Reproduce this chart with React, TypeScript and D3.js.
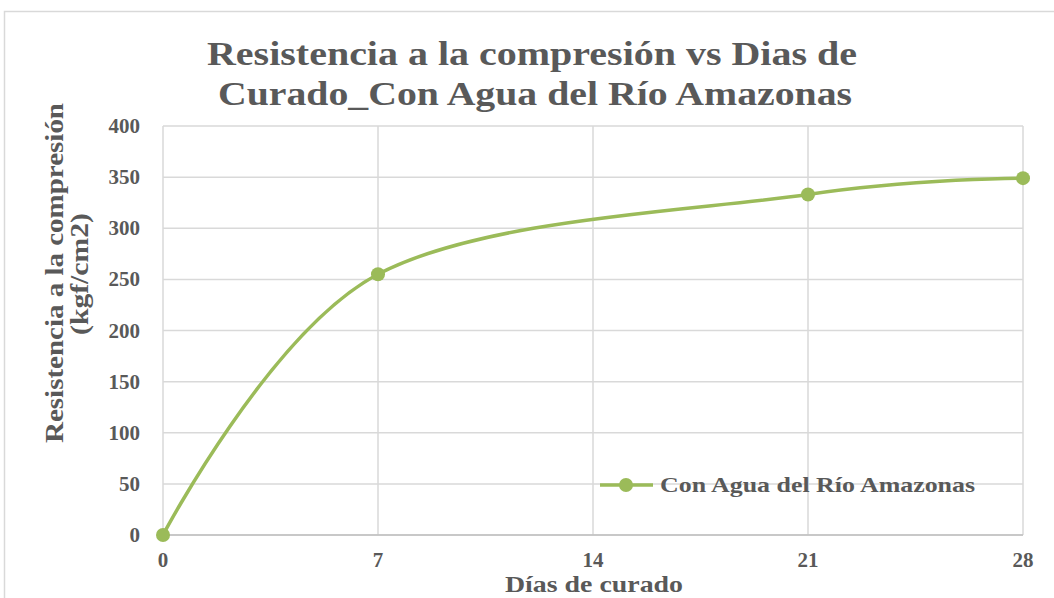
import React from "react";
import * as d3 from "d3";

const days = [0, 7, 21, 28];
const strength = [0, 255, 333, 349];
const xTicks = [0, 7, 14, 21, 28];
const yTicks = [0, 50, 100, 150, 200, 250, 300, 350, 400];
const titleLines = ["Resistencia a la compresión vs Dias de", "Curado_Con Agua del Río Amazonas"];
const yTitleLines = ["Resistencia a la compresión", "(kgf/cm2)"];
const xTitle = "Días de curado";
const seriesName = "Con Agua del Río Amazonas";

const W = 1054;
const H = 598;
const TEXT = "#595959";
const GRID = "#d9d9d9";
const GREEN = "#9bbb59";
const FONT = "'Liberation Serif', 'DejaVu Serif', serif";

export default function App() {
  const x = d3.scaleLinear().domain([0, 28]).range([163, 1023]);
  const y = d3.scaleLinear().domain([0, 400]).range([535, 126]);
  const pts: [number, number][] = days.map((d, i) => [x(d), y(strength[i])]);
  const line = d3.line().curve(d3.curveCardinal.tension(0))(pts) || "";

  return (
    <svg
      width={W}
      height={H}
      style={{ position: "absolute", left: 0, top: 0, background: "#fff" }}
      fontFamily={FONT}
    >
      <rect x={0} y={0} width={W} height={H} fill="#fff" />
      <rect x={4.5} y={11.5} width={W + 10} height={H + 10} fill="none" stroke={GRID} strokeWidth={1.5} />

      {titleLines.map((t, i) => (
        <text
          key={i}
          x={i === 0 ? 207 : 218}
          y={65 + i * 40}
          fontSize={33}
          fontWeight="bold"
          fill={TEXT}
          textLength={i === 0 ? 650 : 634}
          lengthAdjust="spacingAndGlyphs"
        >
          {t}
        </text>
      ))}

      {yTicks.map((t) => (
        <line key={"h" + t} x1={x(0)} x2={x(28)} y1={y(t)} y2={y(t)} stroke={GRID} strokeWidth={1.5} />
      ))}
      {xTicks.map((t) => (
        <line key={"v" + t} x1={x(t)} x2={x(t)} y1={y(400)} y2={y(0)} stroke={GRID} strokeWidth={1.5} />
      ))}
      <line x1={x(0)} x2={x(28)} y1={y(0)} y2={y(0)} stroke="#bfbfbf" strokeWidth={1.5} />

      {yTicks.map((t) => (
        <text
          key={"yl" + t}
          x={140}
          y={y(t) + 7}
          textAnchor="end"
          fontSize={21}
          fontWeight="bold"
          fill={TEXT}
        >
          {t}
        </text>
      ))}
      {xTicks.map((t) => (
        <text
          key={"xl" + t}
          x={x(t)}
          y={567}
          textAnchor="middle"
          fontSize={21}
          fontWeight="bold"
          fill={TEXT}
        >
          {t}
        </text>
      ))}

      <text
        x={505}
        y={592}
        fontSize={23}
        fontWeight="bold"
        fill={TEXT}
        textLength={178}
        lengthAdjust="spacingAndGlyphs"
      >
        {xTitle}
      </text>

      {yTitleLines.map((t, i) => (
        <text
          key={"yt" + i}
          transform={`translate(${i === 0 ? 63 : 88},${i === 0 ? 443 : 335}) rotate(-90)`}
          fontSize={26}
          fontWeight="bold"
          fill={TEXT}
          textLength={i === 0 ? 340 : 122}
          lengthAdjust="spacingAndGlyphs"
        >
          {t}
        </text>
      ))}

      <path d={line} fill="none" stroke={GREEN} strokeWidth={3.5} strokeLinecap="round" />
      {pts.map((p, i) => (
        <circle key={"c" + i} cx={p[0]} cy={p[1]} r={7} fill={GREEN} />
      ))}

      <line x1={600} x2={653} y1={485} y2={485} stroke={GREEN} strokeWidth={3.5} />
      <circle cx={626} cy={485} r={7} fill={GREEN} />
      <text
        x={660}
        y={492}
        fontSize={22}
        fontWeight="bold"
        fill={TEXT}
        textLength={315}
        lengthAdjust="spacingAndGlyphs"
      >
        {seriesName}
      </text>
    </svg>
  );
}
